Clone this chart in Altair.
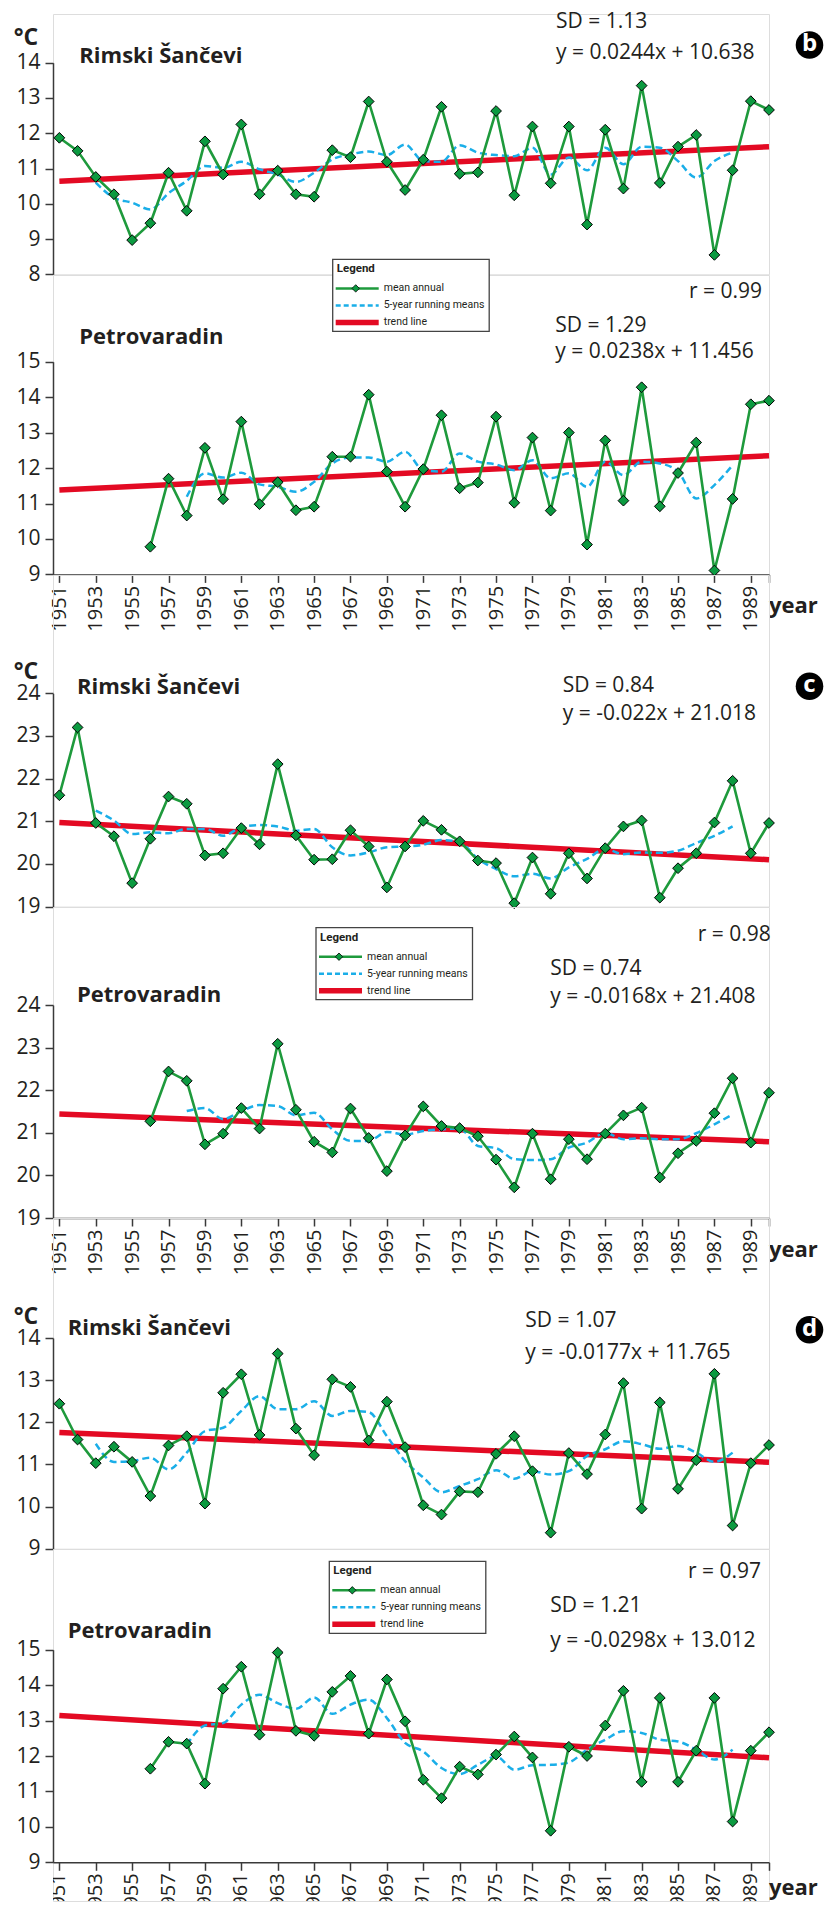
import altair as alt
import pandas as pd

# ---------------- data ----------------
years_rs = list(range(1951, 1991))          # Rimski Šančevi mean annual
years_pv = list(range(1956, 1991))          # Petrovaradin mean annual
years_run_rs = list(range(1953, 1989))      # 5-year running means (Rimski Šančevi)
years_run_pv = list(range(1958, 1989))      # 5-year running means (Petrovaradin)
trend_years = [1951, 1990]
tick_years = list(range(1951, 1990, 2)) + [1990]
label_years = list(range(1951, 1990, 2))

# --- panel b ---
b_rs_mean = [11.87, 11.50, 10.76, 10.27, 8.97, 9.45, 10.88, 9.80, 11.77, 10.83,
             12.25, 10.27, 10.94, 10.27, 10.20, 11.52, 11.32, 12.90, 11.19, 10.39,
             11.25, 12.75, 10.85, 10.89, 12.63, 10.24, 12.19, 10.58, 12.19, 9.41,
             12.10, 10.43, 13.35, 10.59, 11.62, 11.95, 8.55, 10.95, 12.91, 12.66]
b_rs_run = [10.60, 10.17, 10.03, 9.84, 10.30, 10.65, 11.07, 11.02, 11.19, 10.98,
            10.83, 10.62, 10.88, 11.26, 11.40, 11.48, 11.38, 11.68, 11.21, 11.19,
            11.66, 11.45, 11.38, 11.35, 11.59, 10.83, 11.31, 10.95, 11.59, 11.12,
            11.62, 11.59, 11.21, 10.74, 11.21, 11.45]
b_rs_trend = [10.64, 11.62]
b_pv_mean = [9.78, 11.70, 10.66, 12.57, 11.12, 13.31, 10.98, 11.60, 10.81, 10.91,
             12.32, 12.32, 14.07, 11.90, 10.91, 11.97, 13.49, 11.43, 11.59, 13.45,
             11.02, 12.86, 10.80, 13.00, 9.84, 12.78, 11.08, 14.28, 10.92, 11.86,
             12.72, 9.11, 11.13, 13.80, 13.90]
b_pv_run = [11.19, 11.85, 11.73, 11.87, 11.54, 11.47, 11.33, 11.61, 12.13, 12.30,
            12.30, 12.18, 12.46, 11.94, 11.90, 12.41, 12.18, 12.10, 11.94, 12.22,
            11.71, 11.85, 11.47, 12.18, 11.80, 12.18, 12.13, 11.90, 11.14, 11.52, 12.08]
b_pv_trend = [11.38, 12.35]

# --- panel c ---
c_rs_mean = [21.61, 23.20, 20.96, 20.65, 19.55, 20.59, 21.58, 21.41, 20.20, 20.25,
             20.84, 20.46, 22.34, 20.67, 20.10, 20.11, 20.79, 20.41, 19.45, 20.41,
             21.01, 20.80, 20.53, 20.08, 20.02, 19.08, 20.15, 19.30, 20.25, 19.66,
             20.37, 20.88, 21.02, 19.21, 19.90, 20.25, 20.97, 21.95, 20.25, 20.96]
c_rs_run = [21.25, 21.02, 20.70, 20.74, 20.72, 20.82, 20.82, 20.66, 20.86, 20.91,
            20.88, 20.78, 20.82, 20.39, 20.20, 20.27, 20.39, 20.41, 20.45, 20.56,
            20.51, 20.12, 19.88, 19.71, 19.77, 19.66, 19.92, 20.12, 20.35, 20.23,
            20.27, 20.26, 20.31, 20.49, 20.66, 20.88]
c_rs_trend = [20.97, 20.10]
c_pv_mean = [21.27, 22.44, 22.22, 20.73, 20.98, 21.58, 21.10, 23.09, 21.54, 20.79,
             20.54, 21.57, 20.88, 20.10, 20.94, 21.62, 21.16, 21.11, 20.92, 20.37,
             19.72, 20.98, 19.91, 20.85, 20.38, 20.98, 21.41, 21.59, 19.95, 20.52,
             20.81, 21.46, 22.28, 20.77, 21.94]
c_pv_run = [21.51, 21.58, 21.32, 21.51, 21.65, 21.63, 21.41, 21.47, 21.08, 20.81,
            20.81, 21.02, 20.96, 21.04, 21.08, 21.10, 20.69, 20.64, 20.38, 20.36,
            20.38, 20.65, 20.77, 21.00, 20.85, 20.87, 20.85, 20.85, 20.99, 21.20, 21.43]
c_pv_trend = [21.44, 20.79]

# --- panel d ---
d_rs_mean = [12.44, 11.59, 11.03, 11.42, 11.06, 10.25, 11.45, 11.67, 10.07, 12.70,
             13.14, 11.70, 13.63, 11.85, 11.22, 13.02, 12.84, 11.57, 12.49, 11.41,
             10.03, 9.81, 10.36, 10.34, 11.25, 11.67, 10.84, 9.38, 11.27, 10.77,
             11.71, 12.93, 9.95, 12.47, 10.42, 11.10, 13.15, 9.55, 11.03, 11.46]
d_rs_run = [11.49, 11.06, 11.08, 11.16, 10.88, 11.28, 11.79, 11.87, 12.27, 12.62,
            12.31, 12.31, 12.50, 12.15, 12.27, 12.24, 11.67, 11.08, 10.69, 10.34,
            10.49, 10.65, 10.86, 10.66, 10.84, 10.76, 10.84, 11.20, 11.36, 11.55,
            11.48, 11.37, 11.44, 11.28, 11.06, 11.28]
d_rs_trend = [11.76, 11.05]
d_pv_mean = [11.64, 12.40, 12.35, 11.22, 13.90, 14.52, 12.60, 14.92, 12.71, 12.57,
             13.81, 14.26, 12.63, 14.16, 12.98, 11.33, 10.81, 11.70, 11.48, 12.04,
             12.55, 11.96, 9.89, 12.26, 12.00, 12.86, 13.84, 11.27, 13.64, 11.27,
             12.15, 13.64, 10.15, 12.15, 12.67]
d_pv_run = [12.32, 12.86, 12.93, 13.45, 13.73, 13.49, 13.33, 13.65, 13.19, 13.45,
            13.59, 13.07, 12.37, 12.13, 11.66, 11.49, 11.75, 11.99, 11.61, 11.74,
            11.75, 11.82, 12.18, 12.46, 12.70, 12.65, 12.46, 12.41, 12.18, 11.90, 12.18]
d_pv_trend = [13.14, 11.95]

legend_labels = ["mean annual", "5-year running means", "trend line"]

# ---------------- styles ----------------
FONT = "Open Sans"
LEG_FONT = "Roboto"
TXT = "#231f20"
GREEN = "#1e9a3c"
GREEN_FILL = "#0b9a40"
BLUE = "#1aaee8"
RED = "#e30a23"
AXIS = "#3a3a3a"

X_DOMAIN = [1950.65, 1990]
W = 716
BADGE_X = 756.5
dummy = pd.DataFrame({"d": [0]})


def text_layer(txt, x, y, size=21, weight="normal", color=TXT, font=FONT, align="left"):
    return alt.Chart(dummy).mark_text(
        align=align, baseline="middle", fontSize=size, fontWeight=weight,
        font=font, color=color
    ).encode(x=alt.value(x), y=alt.value(y), text=alt.value(txt))


def badge(letter, x, y):
    circ = alt.Chart(dummy).mark_point(
        shape="circle", filled=True, color="black", opacity=1, size=760
    ).encode(x=alt.value(x), y=alt.value(y))
    let = alt.Chart(dummy).mark_text(
        align="center", baseline="middle", fontSize=24, fontWeight="bold",
        font=FONT, color="white"
    ).encode(x=alt.value(x), y=alt.value(y - 1), text=alt.value(letter))
    return [circ, let]


def legend(L, T):
    Wb, Hb = 156.5, 72
    layers = []
    layers.append(alt.Chart(dummy).mark_rect(
        fill="white", stroke="#444444", strokeWidth=1.3
    ).encode(x=alt.value(L), x2=alt.value(L + Wb), y=alt.value(T), y2=alt.value(T + Hb)))
    layers.append(text_layer("Legend", L + 4, T + 10, size=11.5, weight="bold", font=LEG_FONT))
    rows = [T + 29, T + 46, T + 63]
    layers.append(alt.Chart(dummy).mark_rule(color=GREEN, strokeWidth=2.5).encode(
        x=alt.value(L + 3), x2=alt.value(L + 46), y=alt.value(rows[0])))
    layers.append(alt.Chart(dummy).mark_point(
        shape="diamond", filled=True, fill=GREEN_FILL, stroke="black", strokeWidth=0.8,
        opacity=1, size=55).encode(x=alt.value(L + 23), y=alt.value(rows[0])))
    layers.append(alt.Chart(dummy).mark_rule(color=BLUE, strokeWidth=2.5, strokeDash=[5, 3]).encode(
        x=alt.value(L + 3), x2=alt.value(L + 46), y=alt.value(rows[1])))
    layers.append(alt.Chart(dummy).mark_rule(color=RED, strokeWidth=5.5).encode(
        x=alt.value(L + 3), x2=alt.value(L + 46), y=alt.value(rows[2])))
    for lab, ry in zip(legend_labels, rows):
        layers.append(text_layer(lab, L + 51, ry, size=10.5, font=LEG_FONT))
    return layers


def panel(m_years, m_vals, r_years, r_vals, t_vals, ydom, h, ptop, show_x, extras,
          view_h=None):
    """h = pixel position of the x axis (bottom of value range), view_h = panel height."""
    if view_h is None:
        view_h = h
    yticks = list(range(ydom[0], ydom[1] + 1))
    clipped_labels = view_h > h
    if show_x:
        xaxis = alt.Axis(values=tick_years, labelAngle=-90, labelFontSize=20, labelFont=FONT,
                         labelColor=TXT, tickSize=8, tickColor=AXIS, tickWidth=1.5,
                         domainColor=AXIS, domainWidth=1.5, labelPadding=3, grid=False,
                         title=None, labelExpr="datum.value == 1990 ? '' : datum.value",
                         labelOverlap=False, labelFlush=False,
                         labels=not clipped_labels, offset=-(view_h - h))
    else:
        xaxis = None
    x = alt.X("year:Q", scale=alt.Scale(domain=X_DOMAIN, nice=False, zero=False), axis=xaxis)
    y = alt.Y("value:Q", scale=alt.Scale(domain=ydom, range=[h, ptop], nice=False, zero=False),
              axis=alt.Axis(values=yticks, labelFontSize=21, labelFont=FONT, labelColor=TXT,
                            tickSize=8, tickColor=AXIS, tickWidth=1.5, domainColor=AXIS,
                            domainWidth=1.5, labelPadding=5, grid=False, title=None,
                            labelOverlap=False, labelFlush=False))
    df_m = pd.DataFrame({"year": m_years, "value": m_vals})
    df_r = pd.DataFrame({"year": r_years, "value": r_vals})
    df_t = pd.DataFrame({"year": trend_years, "value": t_vals})
    trend = alt.Chart(df_t).mark_line(color=RED, strokeWidth=5.5).encode(x=x, y=y)
    run = alt.Chart(df_r).mark_line(color=BLUE, strokeWidth=2.5, strokeDash=[7, 4],
                                    interpolate="monotone").encode(x=x, y=y)
    line = alt.Chart(df_m).mark_line(color=GREEN, strokeWidth=2.6).encode(x=x, y=y)
    pts = alt.Chart(df_m).mark_point(shape="diamond", filled=True, fill=GREEN_FILL,
                                     stroke="black", strokeWidth=1, opacity=1,
                                     size=115).encode(x=x, y=y)
    layers = [trend, run, line, pts]
    if clipped_labels:
        df_l = pd.DataFrame({"year": label_years, "label": [str(v) for v in label_years]})
        labs = alt.Chart(df_l).mark_text(
            angle=270, align="right", baseline="middle", fontSize=20, font=FONT,
            color=TXT, clip=True
        ).encode(x=x, y=alt.value(h + 11), text="label:N")
        layers.append(labs)
    return alt.layer(*layers, *extras).properties(width=W, height=view_h)


# ---------------- panels ----------------
h1, t1 = 260.3, 48.7
p1 = panel(years_rs, b_rs_mean, years_run_rs, b_rs_run, b_rs_trend, [8, 14], h1, t1, False, [
    text_layer("°C", -39.3, 23.7, size=23, weight="bold"),
    text_layer("Rimski Šančevi", 26.3, 41.7, size=22, weight="bold"),
    text_layer("SD = 1.13", 503, 8),
    text_layer("y = 0.0244x + 10.638", 503, 39),
    *badge("b", BADGE_X, 31),
])

h2, t2 = 299.4, 86.7
p2 = panel(years_pv, b_pv_mean, years_run_pv, b_pv_run, b_pv_trend, [9, 15], h2, t2, True, [
    *legend(279.7, -15.6),
    text_layer("r = 0.99", 636, 16.7),
    text_layer("Petrovaradin", 26.3, 61.7, size=22, weight="bold"),
    text_layer("SD = 1.29", 502.3, 50.7),
    text_layer("y = 0.0238x + 11.456", 502.3, 76.7),
    text_layer("year", 716, h2 + 32, size=22, weight="bold"),
])

h3, t3 = 331.6, 118.3
p3 = panel(years_rs, c_rs_mean, years_run_rs, c_rs_run, c_rs_trend, [19, 24], h3, t3, False, [
    text_layer("°C", -39.3, 97.3, size=23, weight="bold"),
    text_layer("Rimski Šančevi", 24, 112.3, size=22, weight="bold"),
    text_layer("SD = 0.84", 509.7, 111.3),
    text_layer("y = -0.022x + 21.018", 509.7, 139),
    *badge("c", BADGE_X, 111.3),
])

h4, t4 = 311.0, 98.0
p4 = panel(years_pv, c_pv_mean, years_run_pv, c_pv_run, c_pv_trend, [19, 24], h4, t4, True, [
    *legend(263, 20.7),
    text_layer("r = 0.98", 644.7, 28.4),
    text_layer("Petrovaradin", 24, 88.4, size=22, weight="bold"),
    text_layer("SD = 0.74", 497.3, 61.7),
    text_layer("y = -0.0168x + 21.408", 497.3, 89.7),
    text_layer("year", 716, h4 + 32, size=22, weight="bold"),
])

h5, t5 = 330.7, 120.0
p5 = panel(years_rs, d_rs_mean, years_run_rs, d_rs_run, d_rs_trend, [9, 14], h5, t5, False, [
    text_layer("°C", -39.3, 98.7, size=23, weight="bold"),
    text_layer("Rimski Šančevi", 14.7, 109.7, size=22, weight="bold"),
    text_layer("SD = 1.07", 472.3, 103),
    text_layer("y = -0.0177x + 11.765", 472.3, 134.7),
    *badge("d", BADGE_X, 111.7),
])

h6, t6 = 313.3, 100.7
v6 = 352.0
p6 = panel(years_pv, d_pv_mean, years_run_pv, d_pv_run, d_pv_trend, [9, 15], h6, t6, True, [
    *legend(276.3, 12.3),
    text_layer("r = 0.97", 635, 23.3),
    text_layer("Petrovaradin", 14.7, 82.3, size=22, weight="bold"),
    text_layer("SD = 1.21", 497.3, 57.3),
    text_layer("y = -0.0298x + 13.012", 497.3, 92.3),
    text_layer("year", 716, v6 - 13, size=22, weight="bold"),
], view_h=v6)

chart = alt.vconcat(
    p1, p2, p3, p4, p5, p6, spacing=0, bounds="flush",
    padding={"left": 5, "top": 2, "right": 0, "bottom": 0}
).configure_view(stroke=None).configure(background="white")

chart.save("out.html", embed_options={"renderer": "svg", "actions": False})
